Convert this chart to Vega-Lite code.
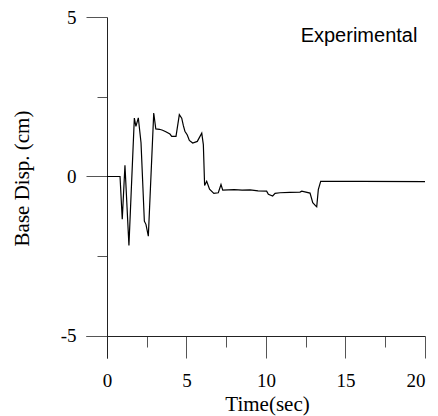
{
  "$schema": "https://vega.github.io/schema/vega-lite/v6.json",
  "width": 339,
  "height": 341,
  "autosize": "none",
  "padding": {"left": 86, "top": 17, "right": 13, "bottom": 58},
  "config": {
    "view": {"stroke": null},
    "axis": {
      "labelFont": "Liberation Serif",
      "titleFont": "Liberation Serif",
      "labelFontSize": 19,
      "titleFontSize": 21,
      "titleFontWeight": "normal",
      "labelColor": "#000",
      "titleColor": "#000",
      "domainColor": "#222",
      "tickColor": "#555",
      "grid": false
    }
  },
  "layer": [
    {
      "data": {
        "values": [
          {"t": 0, "v": 0}, {"t": 0.82, "v": 0}, {"t": 0.96, "v": -1.34}, {"t": 1.13, "v": 0.35},
          {"t": 1.38, "v": -2.16}, {"t": 1.72, "v": 1.83}, {"t": 1.82, "v": 1.57}, {"t": 1.97, "v": 1.84},
          {"t": 2.14, "v": 1.06}, {"t": 2.35, "v": -1.4}, {"t": 2.45, "v": -1.5}, {"t": 2.6, "v": -1.87},
          {"t": 2.94, "v": 1.99}, {"t": 3.07, "v": 1.49}, {"t": 3.3, "v": 1.48}, {"t": 3.5, "v": 1.45},
          {"t": 3.7, "v": 1.4}, {"t": 3.96, "v": 1.33},
          {"t": 4.07, "v": 1.26}, {"t": 4.34, "v": 1.26}, {"t": 4.55, "v": 1.94}, {"t": 4.7, "v": 1.83},
          {"t": 4.8, "v": 1.6}, {"t": 4.9, "v": 1.42}, {"t": 5.05, "v": 1.3}, {"t": 5.18, "v": 1.13}, {"t": 5.39, "v": 1.05}, {"t": 5.68, "v": 1.1},
          {"t": 5.96, "v": 1.36}, {"t": 6.06, "v": 1.0}, {"t": 6.14, "v": -0.28}, {"t": 6.27, "v": -0.15},
          {"t": 6.45, "v": -0.4}, {"t": 6.72, "v": -0.53}, {"t": 7.0, "v": -0.51}, {"t": 7.17, "v": -0.25},
          {"t": 7.28, "v": -0.43}, {"t": 8.0, "v": -0.41}, {"t": 8.5, "v": -0.43}, {"t": 9.0, "v": -0.42}, {"t": 9.5, "v": -0.45}, {"t": 10.04, "v": -0.46},
          {"t": 10.15, "v": -0.56}, {"t": 10.42, "v": -0.61}, {"t": 10.57, "v": -0.53}, {"t": 10.88, "v": -0.51},
          {"t": 11.5, "v": -0.5}, {"t": 12.14, "v": -0.49}, {"t": 12.25, "v": -0.46}, {"t": 12.77, "v": -0.52},
          {"t": 12.94, "v": -0.82}, {"t": 13.14, "v": -0.93}, {"t": 13.19, "v": -0.95}, {"t": 13.29, "v": -0.41},
          {"t": 13.44, "v": -0.15}, {"t": 16, "v": -0.15}, {"t": 20, "v": -0.16}
        ]
      },
      "mark": {"type": "line", "color": "#000", "strokeWidth": 1.2},
      "encoding": {
        "x": {
          "field": "t", "type": "quantitative",
          "scale": {"domain": [-1.32, 20], "nice": false, "zero": false},
          "axis": {
            "title": "Time(sec)",
            "offset": -22,
            "values": [0, 2.5, 5, 7.5, 10, 12.5, 15, 17.5, 20],
            "labelExpr": "datum.value % 5 == 0 ? '' + datum.value : ''",
            "tickSize": {"condition": {"test": "datum.value % 5 == 0", "value": 22}, "value": 11},
            "labelPadding": 13,
            "titlePadding": 3,
            "titleX": 181
          }
        },
        "y": {
          "field": "v", "type": "quantitative",
          "scale": {"domain": [-5.69, 5], "nice": false, "zero": false},
          "axis": {
            "title": "Base Disp. (cm)",
            "offset": -21,
            "values": [-5, -2.5, 0, 2.5, 5],
            "labelExpr": "datum.value % 5 == 0 ? '' + datum.value : ''",
            "tickSize": {"condition": {"test": "datum.value % 5 == 0", "value": 21}, "value": 10},
            "labelPadding": 10,
            "titlePadding": 28,
            "titleY": 161
          }
        }
      }
    },
    {
      "data": {"values": [{"t": 15.85, "v": 4.4, "label": "Experimental"}]},
      "mark": {"type": "text", "font": "Liberation Sans", "fontSize": 20, "color": "#000", "align": "center", "baseline": "middle"},
      "encoding": {
        "x": {"field": "t", "type": "quantitative"},
        "y": {"field": "v", "type": "quantitative"},
        "text": {"field": "label"}
      }
    }
  ]
}
